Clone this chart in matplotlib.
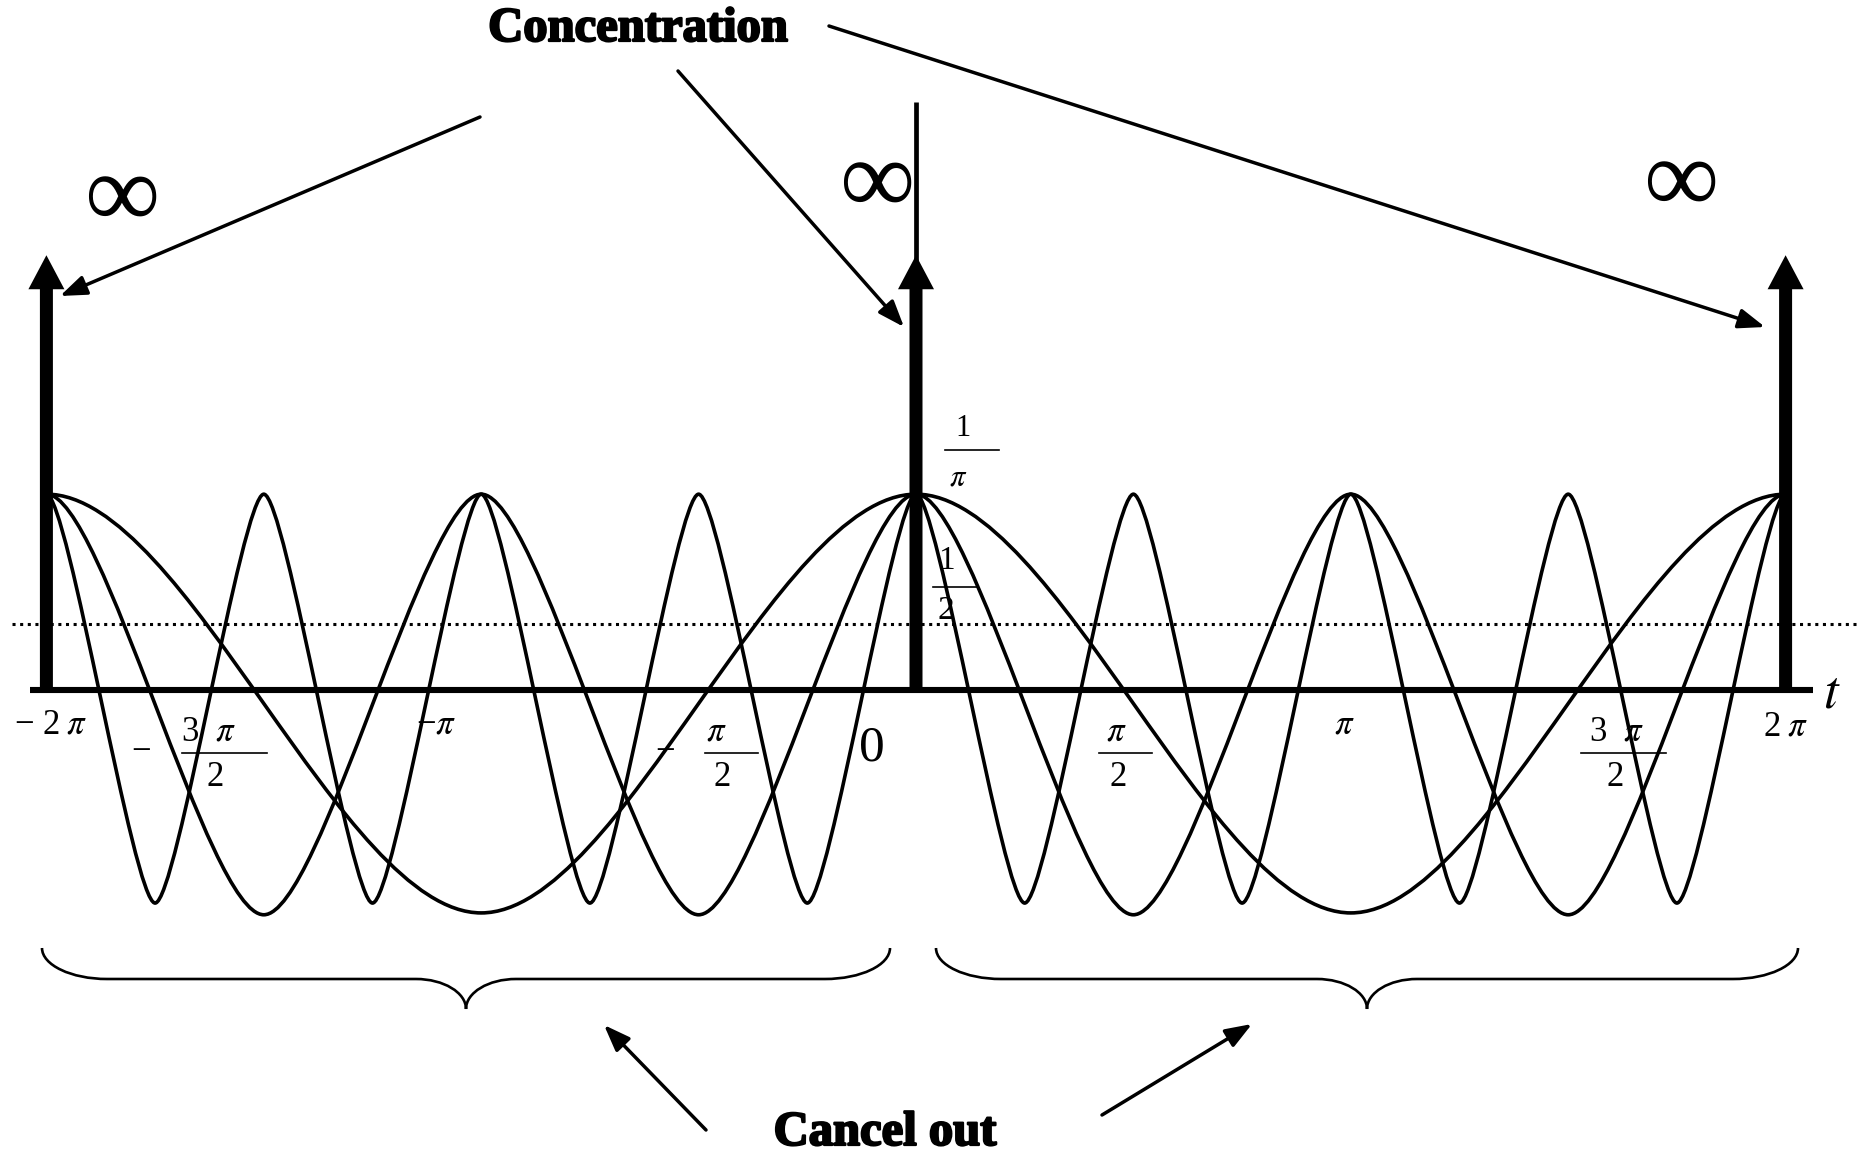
import numpy as np
import matplotlib
matplotlib.use("Agg")
import matplotlib.pyplot as plt
import matplotlib.transforms as mtransforms
import matplotlib.patheffects as pe
from matplotlib.path import Path
from matplotlib.patches import PathPatch
from matplotlib.lines import Line2D

plt.rcParams['mathtext.fontset'] = 'stix'
plt.rcParams['font.family'] = ['Liberation Serif', 'DejaVu Serif']

# ---- values (t in units of pi) ----
cos1_t = [-2, -1, 0, 1, 2]
cos1_y = [0.318, -0.362, 0.318, -0.362, 0.318]
cos2_t = [-2, -1.5, -1, -0.5, 0, 0.5, 1, 1.5, 2]
cos2_y = [0.318, -0.365, 0.318, -0.365, 0.318, -0.365, 0.318, -0.365, 0.318]
cos4_t = [-2, -1.75, -1.5, -1.25, -1, -0.75, -0.5, -0.25, 0,
          0.25, 0.5, 0.75, 1, 1.25, 1.5, 1.75, 2]
cos4_y = [0.318, -0.346, 0.318, -0.346, 0.318, -0.346, 0.318, -0.346, 0.318,
          -0.346, 0.318, -0.346, 0.318, -0.346, 0.318, -0.346, 0.318]
impulse_t = [-2, 0, 2]
impulse_h = [0.706, 0.706, 0.706]
yaxis_top = 0.955
peak_level = 0.318
half_level = 0.107

# plain tick labels
tick_vals = [-2, -1, 0, 1, 2]
tick_text = ['\u2212 2\u2009$\\pi$', '\u2212$\\pi$', '0', r'$\pi$', '2\u2009$\\pi$']
tick_off = [(4, 35), (-45, 35), (-44, 58), (-6, 35), (0, 37)]   # px, down from axis
tick_size = [25, 25, 37, 25, 25]
# fraction tick labels: value, sign, numerator, denominator
frac_vals = [-1.5, -0.5, 0.5, 1.5]
frac_sign = ['\u2212', '\u2212', '', '']
frac_num = ['3\u2002$\\pi$', r'$\pi$', r'$\pi$', '3\u2002$\\pi$']
frac_den = ['2', '2', '2', '2']
# offsets in px from the tick: sign x, numerator x, denominator x, bar x0, bar x1
frac_off = [(-123, -55, -49, -82, 3), (-34, 18, 24, 6, 59),
            (0, -17, -15, -34, 19), (0, 48, 47, 13, 98)]

W, H = 1859, 1155
X0, SX = 916, 138.4   # pixel of t=0, pixels per radian
Y0, SY = 690, 615.8   # pixel of y=0, pixels per unit

fig = plt.figure(figsize=(W / 100, H / 100), dpi=100)
ax = fig.add_axes([0, 0, 1, 1])
ax.set_xlim(-X0 / SX, (W - X0) / SX)
ax.set_ylim((Y0 - H) / SY, Y0 / SY)
ax.axis('off')

pix = mtransforms.Affine2D().scale(1 / W, -1 / H).translate(0, 1) + fig.transFigure


def tpx(v):
    # pixel column of a value given in units of pi
    return ax.transData.transform((v * np.pi, 0))[0]


def wave_path(ts, ys, c):
    verts = [(ts[0] * np.pi, ys[0])]
    codes = [Path.MOVETO]
    for i in range(len(ts) - 1):
        x0, x1 = ts[i] * np.pi, ts[i + 1] * np.pi
        d = x1 - x0
        verts += [(x0 + c * d, ys[i]), (x1 - c * d, ys[i + 1]), (x1, ys[i + 1])]
        codes += [Path.CURVE4] * 3
    return Path(verts, codes)


for ts, ys, c in [(cos1_t, cos1_y, 0.32), (cos2_t, cos2_y, 0.26), (cos4_t, cos4_y, 0.2)]:
    ax.add_patch(PathPatch(wave_path(ts, ys, c), fc='none', ec='k', lw=2.6,
                           capstyle='round', joinstyle='round'))

# dotted level line
ax.axhline(half_level, xmin=12 / W, xmax=1, color='k', lw=2.2, ls=(0, (1, 1.5)))

# horizontal axis
fig.add_artist(Line2D([30, 1813], [Y0, Y0], transform=pix, color='k', lw=4.4,
                      solid_capstyle='butt'))
# thin vertical axis
ax.plot([0, 0], [0, yaxis_top], color='k', lw=3.4, solid_capstyle='butt')

# impulses
for t, h in zip(impulse_t, impulse_h):
    ax.arrow(t * np.pi, 0, 0, h, width=13 / SX, head_width=36 / SX,
             head_length=34 / SY, length_includes_head=True, fc='k', ec='none',
             zorder=5)

# plain tick labels
for v, s, (dx, dy), fs in zip(tick_vals, tick_text, tick_off, tick_size):
    ax.text(tpx(v) + dx, Y0 + dy, s, transform=pix, ha='center', va='center', fontsize=fs)


def fraction(xn, xd, xb0, xb1, num, den, y_num, y_bar, y_den, fs=25):
    ax.text(xn, y_num, num, transform=pix, ha='center', va='center', fontsize=fs)
    ax.text(xd, y_den, den, transform=pix, ha='center', va='center', fontsize=fs)
    fig.add_artist(Line2D([xb0, xb1], [y_bar, y_bar], transform=pix, color='k', lw=1.2))


for v, sg, nm, dn, (ds, dnx, ddx, b0, b1) in zip(frac_vals, frac_sign, frac_num,
                                                 frac_den, frac_off):
    x = tpx(v)
    if sg:
        ax.text(x + ds, 752, sg, transform=pix, ha='center', va='center', fontsize=25)
    fraction(x + dnx, x + ddx, x + b0, x + b1, nm, dn, 732, 753, 778)

# level labels next to the vertical axis
x0 = tpx(0)
fraction(x0 + 47, x0 + 42, x0 + 29, x0 + 83, '1', r'$\pi$', 429, 450, 478, fs=22)
fraction(x0 + 30, x0 + 30, x0 + 17, x0 + 61, '1', '2', 561, 587, 611, fs=24)
ax.text(1832, 694, r'$t$', transform=pix, ha='center', va='center', fontsize=38)

# infinity signs
for x, y in [(122, 202), (877, 188), (1681, 187)]:
    ax.text(x, y, '\u221e', transform=pix, ha='center', va='center', fontsize=76)

# captions
heavy = [pe.withStroke(linewidth=1.6, foreground='k')]
ax.text(638, 29, 'Concentration', transform=pix, ha='center', va='center',
        fontsize=35, fontweight='bold', path_effects=heavy)
ax.text(885, 1133, 'Cancel out', transform=pix, ha='center', va='center',
        fontsize=35, fontweight='bold', path_effects=heavy)

# pointer arrows
arrows = [((480, 117), (60, 296)), ((678, 71), (904, 327)), ((829, 26), (1765, 327)),
          ((706, 1130), (604, 1025)), ((1102, 1115), (1252, 1024))]
for start, tip in arrows:
    ax.annotate('', xy=tip, xycoords=pix, xytext=start, textcoords=pix,
                arrowprops=dict(arrowstyle='-|>,head_length=0.8,head_width=0.3',
                                mutation_scale=20, lw=2.5, color='k',
                                shrinkA=0, shrinkB=0))


# curly braces under each half
def brace(x0, x1, xm, y_end=948, y_bar=979, y_tip=1009, rx=65, rt=50, k=0.55):
    v = [(x0, y_end), (x0, y_end + k * (y_bar - y_end)), (x0 + rx - k * rx, y_bar), (x0 + rx, y_bar),
         (xm - rt, y_bar),
         (xm - rt + k * rt, y_bar), (xm, y_tip - k * (y_tip - y_bar)), (xm, y_tip),
         (xm, y_tip - k * (y_tip - y_bar)), (xm + rt - k * rt, y_bar), (xm + rt, y_bar),
         (x1 - rx, y_bar),
         (x1 - rx + k * rx, y_bar), (x1, y_end + k * (y_bar - y_end)), (x1, y_end)]
    c = [Path.MOVETO] + [Path.CURVE4] * 3 + [Path.LINETO] + [Path.CURVE4] * 6 + \
        [Path.LINETO] + [Path.CURVE4] * 3
    return PathPatch(Path(v, c), fc='none', ec='k', lw=1.9, transform=pix)


fig.add_artist(brace(42, 890, 466))
fig.add_artist(brace(936, 1798, 1367))

fig.savefig('out.png', dpi=100)
